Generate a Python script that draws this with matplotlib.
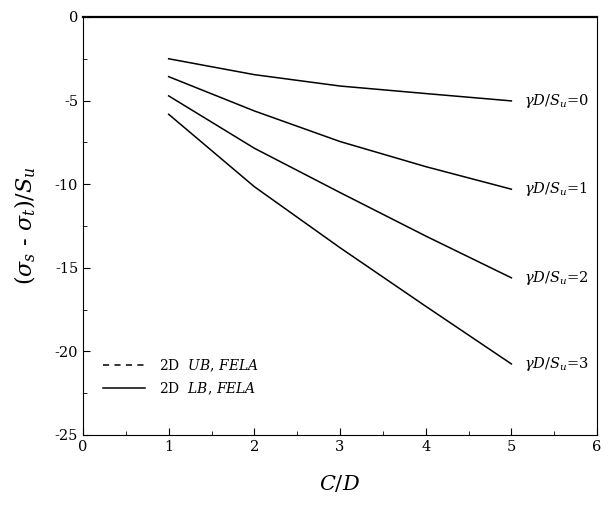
import numpy as np
import matplotlib.pyplot as plt
from matplotlib.ticker import MultipleLocator

plt.rcParams.update({
    'font.family': 'DejaVu Serif',
    'mathtext.fontset': 'dejavuserif',
    'font.size': 10,
    'axes.unicode_minus': False,
})

# C/D ratios and normalised stress for each gamma*D/Su
cd = [1, 2, 3, 4, 5]
gamma_vals = [0, 1, 2, 3]
lb_g0 = [-2.5, -3.45, -4.13, -4.58, -5.02]
lb_g1 = [-3.57, -5.62, -7.45, -8.95, -10.3]
lb_g2 = [-4.72, -7.85, -10.5, -13.1, -15.6]
lb_g3 = [-5.82, -10.15, -13.8, -17.3, -20.75]
lb_curves = [lb_g0, lb_g1, lb_g2, lb_g3]

fig = plt.figure(figsize=(6.08, 5.14), dpi=100)
ax = fig.add_axes([0.1365, 0.1537, 0.8455, 0.8133])

for g, vals in zip(gamma_vals, lb_curves):
    ax.plot(cd, vals, '-', color='black', lw=1.1)
    ax.text(cd[-1] + 0.15, vals[-1], rf'$\gamma D/S_u$=' + f'{g}',
            ha='left', va='center', fontsize=10.5)

# legend entries (upper-bound curves coincide with lower-bound ones)
ax.plot([], [], '--', color='black', lw=1.1, dashes=(4, 3.5),
        label=r'2D  $UB$, $FELA$')
ax.plot([], [], '-', color='black', lw=1.1, label=r'2D  $LB$, $FELA$')
ax.legend(loc='upper left', bbox_to_anchor=(0.015, 0.215), frameon=False,
          fontsize=10, handlelength=3.0, handletextpad=1.0, labelspacing=0.45)

ax.set_xlim(0, 6)
ax.set_ylim(-25, 0)
ax.xaxis.set_major_locator(MultipleLocator(1))
ax.xaxis.set_minor_locator(MultipleLocator(0.5))
ax.yaxis.set_major_locator(MultipleLocator(5))
ax.yaxis.set_minor_locator(MultipleLocator(2.5))
ax.tick_params(which='both', direction='in', top=False, right=False,
               labelsize=10.5)
ax.tick_params(which='major', length=5)
ax.tick_params(which='minor', length=3)
ax.spines['top'].set_linewidth(1.6)

ax.set_xlabel(r'$C/D$', fontsize=15, labelpad=14)
ax.set_ylabel(r'$(\sigma_s$ - $\sigma_t)/S_u$', fontsize=16, labelpad=12)

fig.savefig('out.png', dpi=100)
